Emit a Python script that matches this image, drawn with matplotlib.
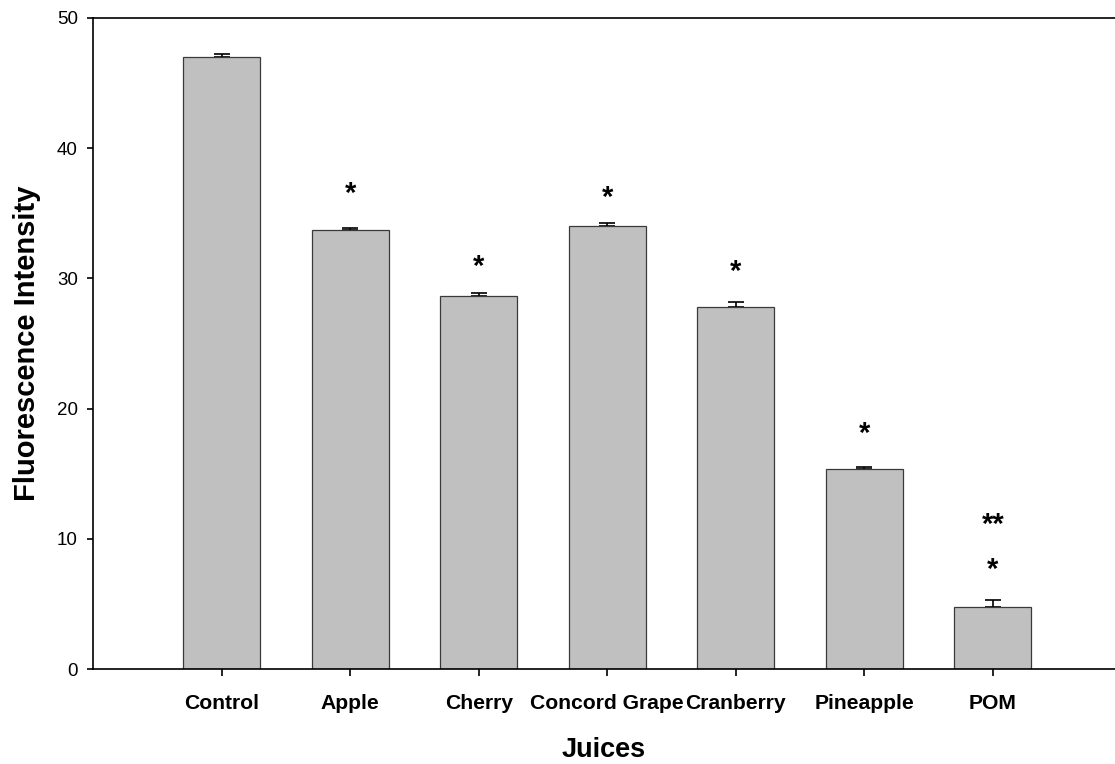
import numpy as np
import matplotlib.pyplot as plt

plt.rcParams['font.family'] = ['Liberation Sans', 'DejaVu Sans']

juices = ['Control', 'Apple', 'Cherry', 'Concord Grape', 'Cranberry', 'Pineapple', 'POM']
intensity = [47.0, 33.7, 28.65, 34.0, 27.8, 15.35, 4.8]
err = [0.2, 0.2, 0.25, 0.25, 0.4, 0.15, 0.5]
# significance marks: (bar index, y position, text)
marks = [(1, 36.5, '*'), (2, 30.9, '*'), (3, 36.2, '*'), (4, 30.5, '*'),
         (5, 18.05, '*'), (6, 7.6, '*'), (6, 11.05, '**')]

fig = plt.figure(figsize=(11.15, 7.64), dpi=100)
ax = fig.add_axes([93 / 1115, 1 - 669 / 764, 1 - 93 / 1115, (669 - 18) / 764])

x = np.arange(1, len(juices) + 1)
# error bars sit behind the bars so only the upper whisker shows
ax.errorbar(x, intensity, yerr=[np.zeros(len(err)), err], fmt='none', ecolor='black',
            elinewidth=1.2, capsize=5.5, capthick=1.2, zorder=1)
ax.bar(x, intensity, width=0.6, color='#c0c0c0', edgecolor='#3a3a3a', linewidth=0.9, zorder=2)

for i, y, s in marks:
    ax.text(x[i], y, s, ha='center', va='center', fontsize=21, fontweight='bold')

ax.set_xlim(0, 7.95)
ax.set_ylim(0, 50)
ax.set_yticks([0, 10, 20, 30, 40, 50])
ax.set_xticks(x)
ax.set_xticklabels(juices, fontweight='bold', fontsize=15.2)
ax.tick_params(axis='y', direction='out', length=4, width=1.2, labelsize=13.5, pad=7)
ax.tick_params(axis='x', direction='out', length=5, width=1.2, pad=13)

ax.spines['right'].set_visible(False)
for sp in ['left', 'top', 'bottom']:
    ax.spines[sp].set_linewidth(1.2)

ax.set_ylabel('Fluorescence Intensity', fontsize=21, fontweight='bold', labelpad=11)
ax.set_xlabel('Juices', fontsize=19.5, fontweight='bold', labelpad=17)

fig.savefig('out.png', dpi=100)
